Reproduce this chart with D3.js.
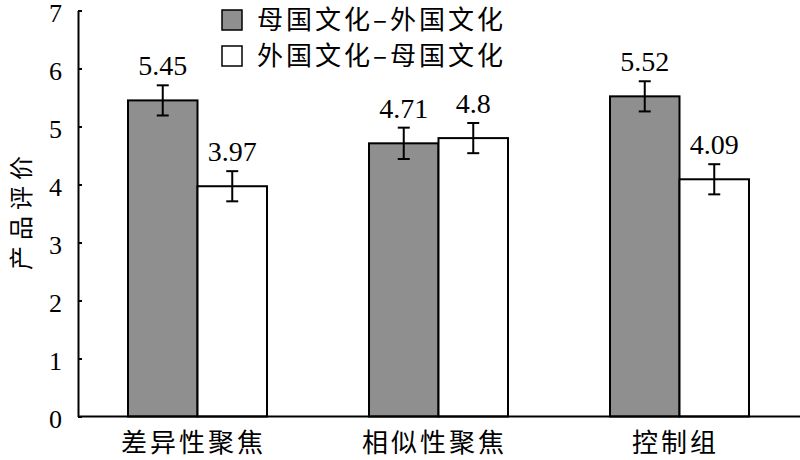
<!DOCTYPE html>
<html><head><meta charset="utf-8">
<script src="https://cdn.jsdelivr.net/npm/d3@7"></script>
<style>
body{margin:0;background:#fff;}
svg{display:block;}
svg text.serif{font-family:"Liberation Serif","Times New Roman",Tinos,"DejaVu Serif",serif !important;}
</style></head>
<body><svg id="chart" width="800" height="460"></svg>
<script>
const categories = ["差异性聚焦", "相似性聚焦", "控制组"];
const seriesNames = ["母国文化–外国文化", "外国文化–母国文化"];
const homeForeign = [5.45, 4.71, 5.52];
const foreignHome = [3.97, 4.80, 4.09];
const homeForeignErr = [0.26, 0.27, 0.26];
const foreignHomeErr = [0.26, 0.26, 0.26];
const yTicks = [0, 1, 2, 3, 4, 5, 6, 7];
const yLabel = "产品评价";

const CJK = "'Noto Sans CJK SC', 'Noto Sans', sans-serif";

const svg = d3.select("#chart");
const mLeft = 78, mRight = 800, mTop = 10.5, mBottom = 416.5;

const y = d3.scaleLinear().domain([0, 7]).range([mBottom, mTop]);
const x0 = d3.scaleBand().domain(categories).range([77, 800]).padding(0);
const pairW = 139;
const x1 = d3.scaleBand().domain([0, 1]).range([0, pairW]).padding(0);
const fills = ["#8f8f8f", "#ffffff"];

const series = [
  {vals: homeForeign, errs: homeForeignErr},
  {vals: foreignHome, errs: foreignHomeErr}
];

const g = svg.append("g");

series.forEach((s, si) => {
  categories.forEach((c, ci) => {
    const bx = x0(c) + (x0.bandwidth() - pairW) / 2 + x1(si);
    const v = s.vals[ci], e = s.errs[ci];
    const cx = bx + x1.bandwidth() / 2;
    g.append("rect")
      .attr("x", bx).attr("y", y(v))
      .attr("width", x1.bandwidth()).attr("height", y(0) - y(v))
      .attr("fill", fills[si]).attr("stroke", "#000").attr("stroke-width", 2);
    g.append("line").attr("x1", cx).attr("x2", cx)
      .attr("y1", y(v + e)).attr("y2", y(v - e))
      .attr("stroke", "#000").attr("stroke-width", 2);
    [v + e, v - e].forEach(t => {
      g.append("line").attr("x1", cx - 6).attr("x2", cx + 6)
        .attr("y1", y(t)).attr("y2", y(t))
        .attr("stroke", "#000").attr("stroke-width", 2);
    });
    g.append("text").attr("class", "serif")
      .attr("x", cx).attr("y", y(v + e) - 10)
      .attr("text-anchor", "middle").style("font-size", "28px")
      .attr("fill", "#000").text(String(v));
  });
});

const yAxis = d3.axisLeft(y).tickValues(yTicks).tickFormat(d3.format("d"))
  .tickSizeInner(-4).tickSizeOuter(0).tickPadding(16);
const ya = svg.append("g").attr("transform", `translate(${mLeft},0)`).call(yAxis);
ya.attr("font-family", null);
ya.select(".domain").attr("stroke", "#000").attr("stroke-width", 2);
ya.selectAll(".tick line").attr("stroke", "#000").attr("stroke-width", 2);
ya.selectAll(".tick text").attr("class", "serif").style("font-size", "26px")
  .attr("fill", "#000").attr("dy", "0.42em");

svg.append("line").attr("x1", mLeft).attr("x2", mRight)
  .attr("y1", mBottom).attr("y2", mBottom)
  .attr("stroke", "#000").attr("stroke-width", 2);

categories.forEach(c => {
  svg.append("text").style("font-family", CJK)
    .attr("x", x0(c) + x0.bandwidth() / 2 - 4).attr("y", 452)
    .attr("text-anchor", "middle").style("font-size", "26px")
    .attr("letter-spacing", 3)
    .attr("fill", "#000").text(c);
});

svg.append("text").style("font-family", CJK)
  .attr("transform", `translate(30,210) rotate(-90)`)
  .attr("text-anchor", "middle").style("font-size", "24px").attr("letter-spacing", 6)
  .attr("fill", "#000").text(yLabel);

seriesNames.forEach((n, i) => {
  const ly = 20 + i * 36;
  svg.append("rect").attr("x", 222).attr("y", ly - 10).attr("width", 20).attr("height", 20)
    .attr("fill", fills[i]).attr("stroke", "#000").attr("stroke-width", 1.5);
  svg.append("text").style("font-family", CJK)
    .attr("x", 257).attr("y", ly + 9)
    .style("font-size", "26px").attr("letter-spacing", 3).attr("fill", "#000").text(n);
});
</script></body></html>
